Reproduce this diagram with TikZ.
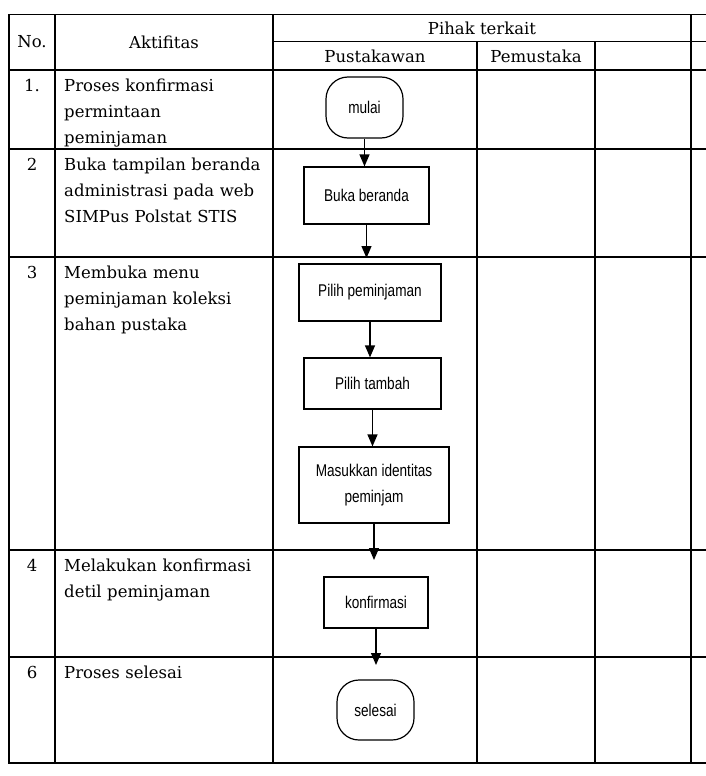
\documentclass[tikz,border=0pt]{standalone}
\usepackage{fontspec}
\setmainfont{DejaVu Serif}
\newfontfamily\boxfont[FakeStretch=0.8]{Liberation Sans}
\usepackage{tikz}
\usetikzlibrary{arrows.meta}

\begin{document}
\begin{tikzpicture}[x=1pt,y=-1pt,
    garis/.style={line width=1.4pt, line cap=rect},
    isi/.style={font=\fontsize{16.5}{26}\selectfont},
    aktif/.style={isi, anchor=base west, text width=205pt, align=left, inner sep=0pt},
    nomor/.style={isi, anchor=base, inner sep=0pt},
    proses/.style={draw, line width=1.2pt, align=center, inner sep=0pt,
      font=\boxfont\fontsize{17}{26}\selectfont},
    terminal/.style={proses, rounded corners=22pt},
    panah/.style={line width=1.2pt, -{Triangle[length=12pt,width=10pt]}}]
  \useasboundingbox (0,0) rectangle (706,776);

  % Draw table lines
  \foreach \y in {14.7,70,149,257,550,657,763}
    \draw[garis] (9,\y) -- (706,\y);
  \draw[garis] (273,41.7) -- (706,41.7);
  \foreach \x in {9,55,273,691}
    \draw[garis] (\x,14.7) -- (\x,763);
  \foreach \x in {477,595}
    \draw[garis] (\x,41.7) -- (\x,763);

  % Header
  \node[isi] (no) at (32,42) {No.};
  \node[isi] (aktifitas) at (164,42) {Aktifitas};
  \node[isi] (pihak) at (482,28) {Pihak terkait};
  \node[isi] (pustakawan) at (375,56) {Pustakawan};
  \node[isi] (pemustaka) at (536,56) {Pemustaka};

  % Rows of activities
  \node[nomor] (no1) at (32,91) {1.};
  \node[aktif] (akt1) at (64,91) {Proses konfirmasi\\permintaan\\peminjaman};
  \node[nomor] (no2) at (32,170) {2};
  \node[aktif] (akt2) at (64,170) {Buka tampilan beranda\\administrasi pada web\\SIMPus Polstat STIS};
  \node[nomor] (no3) at (32,278) {3};
  \node[aktif] (akt3) at (64,278) {Membuka menu\\peminjaman koleksi\\bahan pustaka};
  \node[nomor] (no4) at (32,571) {4};
  \node[aktif] (akt4) at (64,571) {Melakukan konfirmasi\\detil peminjaman};
  \node[nomor] (no6) at (32,678) {6};
  \node[aktif] (akt6) at (64,678) {Proses selesai};

  % Flow in Pustakawan column
  \node[terminal, minimum width=77pt, minimum height=61pt] (mulai) at (364.5,107.5) {mulai};
  \node[proses, minimum width=125pt, minimum height=57pt] (buka) at (366.5,195.5) {Buka beranda};
  \node[proses, minimum width=142pt, minimum height=57pt] (pilihpinjam) at (370,292.5) {Pilih peminjaman};
  \node[proses, minimum width=137pt, minimum height=51pt] (pilihtambah) at (372.5,383.5) {Pilih tambah};
  \node[proses, minimum width=150pt, minimum height=76pt] (masukkan) at (374,485) {Masukkan identitas\\peminjam};
  \node[proses, minimum width=104pt, minimum height=51pt] (konfirmasi) at (376,602.5) {konfirmasi};
  \node[terminal, minimum width=77pt, minimum height=60pt] (selesai) at (375.5,710) {selesai};

  % Arrow ends on the row lines
  \coordinate (ujung2) at (0,258);
  \coordinate (ujung3) at (0,560);
  \coordinate (ujung4) at (0,665);

  \draw[panah] (mulai.south) -- (mulai.south |- buka.north);
  \draw[panah] (buka.south) -- (buka.south |- ujung2);
  \draw[panah] (pilihpinjam.south) -- (pilihpinjam.south |- pilihtambah.north);
  \draw[panah] (pilihtambah.south) -- (pilihtambah.south |- masukkan.north);
  \draw[panah] (masukkan.south) -- (masukkan.south |- ujung3);
  \draw[panah] (konfirmasi.south) -- (konfirmasi.south |- ujung4);
\end{tikzpicture}
\end{document}
